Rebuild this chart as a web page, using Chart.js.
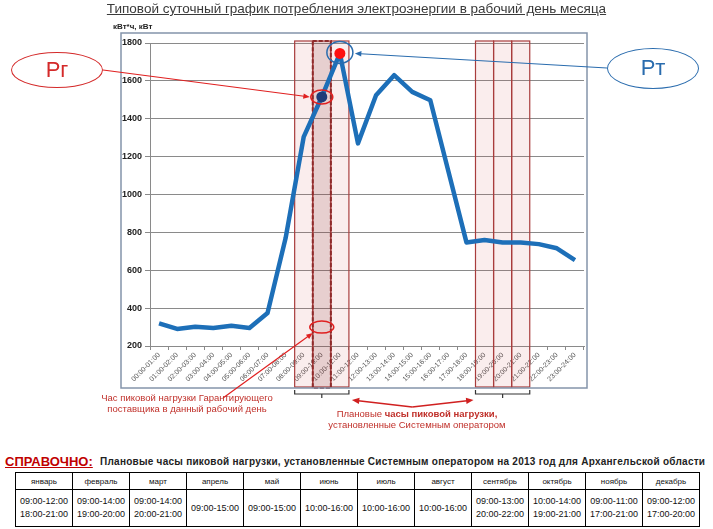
<!DOCTYPE html>
<html lang="ru">
<head>
<meta charset="utf-8">
<title>Типовой суточный график потребления электроэнергии</title>
<script src="https://cdn.jsdelivr.net/npm/chart.js@4.4.1/dist/chart.umd.min.js"></script>
<style>
  body { margin: 0; width: 713px; height: 529px; background: #fff; position: relative; overflow: hidden;
         font-family: 'Liberation Sans', Arial, sans-serif; }
  .abs { position: absolute; white-space: nowrap; }
  #grafik { position: absolute; left: 0; top: 0; }
  #titul { left: 0; top: 1px; width: 713px; text-align: center; font-size: 13.5px; line-height: 16px;
           color: #3a3a3a; text-decoration: underline; }
  #edinicy { left: 113px; top: 22px; font-size: 8px; font-weight: bold; color: #222; }
  .oval { box-sizing: border-box; border-radius: 50%; text-align: center; font-size: 22px; }
  #pg { left: 11px; top: 52px; width: 92px; height: 36px; line-height: 33px; border: 1.5px solid #d42a2a; color: #d42a2a; }
  #pt { left: 607px; top: 48px; width: 92px; height: 41px; line-height: 38px; border: 1.5px solid #2a6cae; color: #2a6cae; }
  .primechanie { text-align: center; font-size: 9.5px; line-height: 10.5px; color: #c0302a; }
  #prim1 { left: 87px; width: 200px; top: 393px; }
  #prim2 { left: 307px; width: 220px; top: 409px; }
  #spravochno { left: 5px; top: 454px; font-size: 13px; font-weight: bold; color: #c00000; text-decoration: underline; }
  #zagolovok { left: 100px; top: 456px; font-size: 10px; letter-spacing: 0.26px; font-weight: bold; color: #222; }
  #tablica { position: absolute; left: 15px; top: 472px; width: 685px; border-collapse: collapse;
             table-layout: fixed; border: 1px solid #000; }
  #tablica td { border: 1px solid #000; text-align: center; padding: 0; color: #111; }
  #tablica tr.shapka td { height: 16px; font-size: 8px; }
  #tablica tr.chasy td { height: 36px; font-size: 9px; line-height: 13px; }
</style>
</head>
<body>
<canvas id="grafik" width="713" height="440"></canvas>
<div class="abs" id="titul">Типовой суточный график потребления электроэнергии в рабочий день месяца</div>
<div class="abs" id="edinicy">кВт*ч, кВт</div>
<div class="abs oval" id="pg">Рг</div>
<div class="abs oval" id="pt">Рт</div>
<div class="abs primechanie" id="prim1">Час пиковой нагрузки Гарантирующего<br>поставщика в данный рабочий день</div>
<div class="abs primechanie" id="prim2">Плановые <b>часы пиковой нагрузки,</b><br>установленные Системным оператором</div>
<div class="abs" id="spravochno">СПРАВОЧНО:</div>
<div class="abs" id="zagolovok">Плановые часы пиковой нагрузки, установленные Системным оператором на 2013 год для Архангельской области</div>
<table id="tablica"></table>
<script>
// Часовые интервалы суток (категории по оси X)
const chasy = ['00:00-01:00', '01:00-02:00', '02:00-03:00', '03:00-04:00', '04:00-05:00', '05:00-06:00',
    '06:00-07:00', '07:00-08:00', '08:00-09:00', '09:00-10:00', '10:00-11:00', '11:00-12:00',
    '12:00-13:00', '13:00-14:00', '14:00-15:00', '15:00-16:00', '16:00-17:00', '17:00-18:00',
    '18:00-19:00', '19:00-20:00', '20:00-21:00', '21:00-22:00', '22:00-23:00', '23:00-24:00'];

// Потребление по часам, кВт*ч
const potreblenie = [320, 290, 302, 295, 307, 295, 374, 770, 1304, 1515, 1745, 1270,
    1524, 1630, 1542, 1498, 1123, 747, 760, 747, 747, 738, 716, 654];

// Шкала оси Y
const yMin = 200;
const yMax = 1800;
const yShag = 200;

// Плановые часы пиковой нагрузки (индексы категорий)
const pikUtro = [8, 9, 10];
const pikVecher = [18, 19, 20];
const chasGP = 9;    // час пиковой нагрузки ГП (Рг)
const chasMax = 10;  // максимум потребления (Рт)

// Справочная таблица
const mesyacy = ['январь', 'февраль', 'март', 'апрель', 'май', 'июнь', 'июль', 'август',
    'сентябрь', 'октябрь', 'ноябрь', 'декабрь'];
const pikChasy = [['09:00-12:00', '18:00-21:00'], ['09:00-14:00', '19:00-20:00'], ['09:00-14:00', '20:00-21:00'],
    ['09:00-15:00'], ['09:00-15:00'], ['10:00-16:00'], ['10:00-16:00'], ['10:00-16:00'],
    ['09:00-13:00', '20:00-22:00'], ['10:00-14:00', '19:00-21:00'], ['09:00-11:00', '17:00-21:00'],
    ['09:00-12:00', '17:00-20:00']];

// Цвета точек: тёмная для Рг, красная для Рт
const tochkiCvet = potreblenie.map((v, i) => i === chasGP ? '#1f3c78' : (i === chasMax ? '#ff1010' : '#1d6fb8'));
const tochkiRadius = potreblenie.map((v, i) => (i === chasGP || i === chasMax) ? 5.5 : 0);

// Рисует стрелку с заливкой на конце
function strelka(ctx, x1, y1, x2, y2, cvet, razmer) {
    const ugol = Math.atan2(y2 - y1, x2 - x1);
    ctx.strokeStyle = cvet;
    ctx.fillStyle = cvet;
    ctx.beginPath();
    ctx.moveTo(x1, y1);
    ctx.lineTo(x2 - Math.cos(ugol) * razmer * 0.8, y2 - Math.sin(ugol) * razmer * 0.8);
    ctx.stroke();
    ctx.beginPath();
    ctx.moveTo(x2, y2);
    ctx.lineTo(x2 - razmer * Math.cos(ugol - 0.4), y2 - razmer * Math.sin(ugol - 0.4));
    ctx.lineTo(x2 - razmer * Math.cos(ugol + 0.4), y2 - razmer * Math.sin(ugol + 0.4));
    ctx.closePath();
    ctx.fill();
}

function oval(ctx, x, y, rx, ry, cvet) {
    ctx.strokeStyle = cvet;
    ctx.lineWidth = 1.5;
    ctx.beginPath();
    ctx.ellipse(x, y, rx, ry, 0, 0, Math.PI * 2);
    ctx.stroke();
}

// Плагин: прямоугольники пиковых часов, рамка и пояснения
const Razmetka = {
    id: 'razmetka',
    beforeDatasetsDraw(chart) {
        const { ctx, chartArea, scales: { x, y } } = chart;
        const shag = x.getPixelForValue(1) - x.getPixelForValue(0);
        const verh = y.getPixelForValue(yMax) - 2;
        const niz = chartArea.bottom + 41;
        ctx.save();
        [pikUtro, pikVecher].forEach(gruppa => {
            const lev = x.getPixelForValue(gruppa[0]) - shag / 2;
            const prav = x.getPixelForValue(gruppa[gruppa.length - 1]) + shag / 2;
            ctx.fillStyle = 'rgba(210, 80, 80, 0.1)';
            ctx.fillRect(lev, verh, prav - lev, niz - verh);
            ctx.strokeStyle = '#a83c3c';
            ctx.lineWidth = 1.2;
            gruppa.forEach(i => {
                const c = x.getPixelForValue(i);
                ctx.strokeRect(c - shag / 2, verh, shag, niz - verh);
            });
        });
        // час пиковой нагрузки ГП – тёмный, пунктиром
        const c = x.getPixelForValue(chasGP);
        ctx.fillStyle = 'rgba(130, 40, 40, 0.15)';
        ctx.fillRect(c - shag / 2, verh, shag, niz - verh + 1);
        ctx.strokeStyle = '#8e2b2b';
        ctx.lineWidth = 2;
        ctx.setLineDash([4, 2]);
        ctx.strokeRect(c - shag / 2, verh, shag, niz - verh + 1);
        ctx.restore();
    },
    afterDraw(chart) {
        const { ctx, chartArea, scales: { x, y } } = chart;
        const meta = chart.getDatasetMeta(0);
        const shag = x.getPixelForValue(1) - x.getPixelForValue(0);
        ctx.save();
        // внешняя рамка области диаграммы
        ctx.strokeStyle = '#8494aa';
        ctx.lineWidth = 1.5;
        ctx.strokeRect(chartArea.left - 29, chartArea.top - 10, chartArea.width + 32, chartArea.height + 52);

        const pg = meta.data[chasGP];
        const pt = meta.data[chasMax];
        // овалы вокруг точек
        oval(ctx, pg.x, pg.y, 11, 7, '#e02020');
        oval(ctx, pt.x, pt.y - 1, 13, 11, '#2a6cae');
        ctx.lineWidth = 1.2;
        strelka(ctx, 103, 70, pg.x - 12, pg.y, '#e02020', 7);
        strelka(ctx, 607, 68, pt.x + 15, pt.y, '#2a6cae', 7);

        // овал внизу и стрелка от подписи
        const yNiz = y.getPixelForValue(300);
        oval(ctx, pg.x, yNiz, 12, 6, '#e02020');
        ctx.lineWidth = 1.2;
        strelka(ctx, 223, 398, pg.x - 9, yNiz + 6, '#e02020', 7);

        // фигурные скобки под группами пиковых часов
        const yS = chartArea.bottom + 48;
        const skobki = [pikUtro, pikVecher].map(gruppa => [
            x.getPixelForValue(gruppa[0]) - shag / 2,
            x.getPixelForValue(gruppa[gruppa.length - 1]) + shag / 2]);
        ctx.strokeStyle = '#333';
        ctx.lineWidth = 1.2;
        skobki.forEach(([l, r]) => {
            ctx.beginPath();
            ctx.moveTo(l, yS - 4);
            ctx.lineTo(l, yS);
            ctx.lineTo(r, yS);
            ctx.lineTo(r, yS - 4);
            ctx.moveTo((l + r) / 2, yS);
            ctx.lineTo((l + r) / 2, yS + 4);
            ctx.stroke();
        });
        // двойная стрелка к обеим группам
        const seredina = (skobki[0][1] + skobki[1][0]) / 2;
        ctx.lineWidth = 1.4;
        strelka(ctx, seredina, yS + 13, skobki[0][1] + 3, yS + 6, '#d02020', 8);
        strelka(ctx, seredina, yS + 13, skobki[1][0] - 2, yS + 6, '#d02020', 8);
        ctx.restore();
    }
};

// Создаём диаграмму
const grafik = new Chart(document.getElementById('grafik').getContext('2d'), {
    type: 'line',
    data: {
        labels: chasy,
        datasets: [{
            data: potreblenie,
            borderColor: '#1d6fb8',
            borderWidth: 4.5,
            borderJoinStyle: 'round',
            pointRadius: tochkiRadius,
            pointBackgroundColor: tochkiCvet,
            pointBorderWidth: 0,
            tension: 0,
            fill: false
        }]
    },
    options: {
        responsive: false,
        animation: false,
        layout: { padding: { left: 120, right: 129, top: 43, bottom: 49 } },
        plugins: { legend: { display: false }, tooltip: { enabled: false } },
        scales: {
            x: {
                offset: true,
                afterFit: (scale) => { scale.height = 45; },
                grid: { offset: true, drawOnChartArea: false, tickLength: 4, color: '#8a8a8a' },
                border: { color: '#8a8a8a' },
                ticks: { autoSkip: false, minRotation: 45, maxRotation: 45, padding: 1,
                         font: { size: 7, family: 'Liberation Sans' }, color: '#555' }
            },
            y: {
                min: yMin,
                max: yMax,
                afterFit: (scale) => { scale.width = 30; },
                grid: { color: '#8a8a8a', tickLength: 5 },
                border: { color: '#8a8a8a' },
                ticks: { stepSize: yShag, padding: 3, callback: (v) => String(v),
                         font: { size: 9, weight: 'bold', family: 'Liberation Sans' }, color: '#222' }
            }
        }
    },
    plugins: [Razmetka]
});

// Строим справочную таблицу
const tablica = document.getElementById('tablica');
const shapka = tablica.insertRow();
shapka.className = 'shapka';
mesyacy.forEach(m => { shapka.insertCell().textContent = m; });
const stroka = tablica.insertRow();
stroka.className = 'chasy';
pikChasy.forEach(p => { stroka.insertCell().innerHTML = p.join('<br>'); });
</script>
</body>
</html>
